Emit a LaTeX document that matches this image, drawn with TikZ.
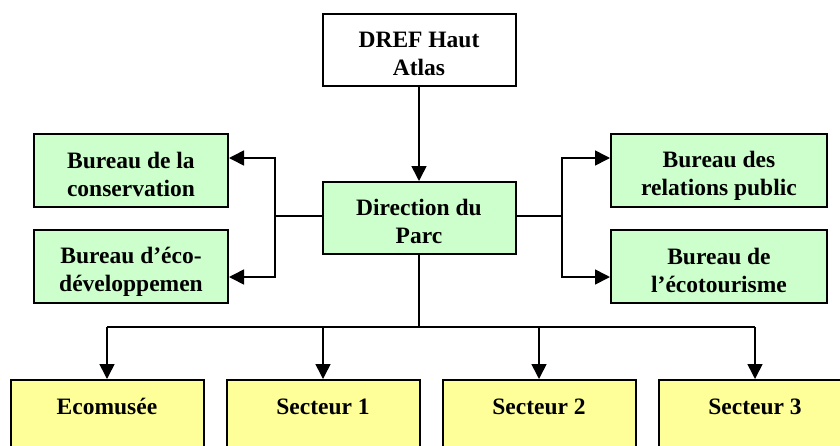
\documentclass[tikz,border=0pt]{standalone}
\usepackage{fontspec}
\setmainfont{Liberation Serif}
\usetikzlibrary{arrows.meta}
\definecolor{boxgreen}{HTML}{CCFFCC}
\definecolor{boxyellow}{HTML}{FFFF99}
\newcommand{\topstrut}{\rule{0pt}{27pt}}
\newcommand{\botstrut}{\rule[-4pt]{0pt}{4pt}}
\begin{document}
\begin{tikzpicture}[x=1pt,y=-1pt,
  box/.style={draw=black, line width=2pt, align=center, inner sep=0pt,
    font=\fontsize{23.5}{28}\selectfont\bfseries},
  gbox/.style={box, fill=boxgreen},
  wbox/.style={box, fill=white},
  ybox/.style={box, fill=boxyellow, minimum width=193pt, anchor=north,
    text height=34pt, text depth=46pt},
  link/.style={draw=black, line width=1.6pt},
  arr/.style={link, -{Triangle[length=15pt,width=15pt]}}]
\useasboundingbox (0,0) rectangle (840,445);
\clip (0,0) rectangle (840,445);
\node[wbox, minimum width=193pt, minimum height=72pt] (dref) at (419,50) {\topstrut DREF Haut\\Atlas\botstrut};
\node[gbox, minimum width=193pt, minimum height=72pt] (dir) at (419,218) {\topstrut Direction du\\Parc\botstrut};
\node[gbox, minimum width=194pt, minimum height=73pt] (cons) at (131,170.5) {\topstrut Bureau de la\\conservation\botstrut};
\node[gbox, minimum width=194pt, minimum height=73pt] (eco) at (131,266.5) {\topstrut Bureau d’éco-\\développemen\botstrut};
\node[gbox, minimum width=216pt, minimum height=73pt] (rel) at (719,170.5) {\topstrut Bureau des\\relations public\botstrut};
\node[gbox, minimum width=216pt, minimum height=73pt] (tour) at (719,266.5) {\topstrut Bureau de\\l’écotourisme\botstrut};
\node[ybox] (ecom) at (107,379) {Ecomusée};
\node[ybox] (s1) at (323,379) {Secteur 1};
\node[ybox] (s2) at (539,379) {Secteur 2};
\node[ybox] (s3) at (755,379) {Secteur 3};
\coordinate (jl) at (275,216);
\coordinate (jr) at (562,216);
\coordinate (jb) at (419,327);
\draw[arr] (dref) -- (dir);
\draw[link] (dir.west |- jl) -- (jl);
\draw[arr] (jl) |- ([yshift=12.5pt]cons.east);
\draw[arr] (jl) |- ([yshift=-10.5pt]eco.east);
\draw[link] (dir.east |- jr) -- (jr);
\draw[arr] (jr) |- ([yshift=12.5pt]rel.west);
\draw[arr] (jr) |- ([yshift=-10.5pt]tour.west);
\draw[link] (dir.south) -- (jb);
\draw[link] (ecom.north |- jb) -- (s3.north |- jb);
\draw[arr] (ecom.north |- jb) -- (ecom.north);
\draw[arr] (s1.north |- jb) -- (s1.north);
\draw[arr] (s2.north |- jb) -- (s2.north);
\draw[arr] (s3.north |- jb) -- (s3.north);
\end{tikzpicture}
\end{document}
